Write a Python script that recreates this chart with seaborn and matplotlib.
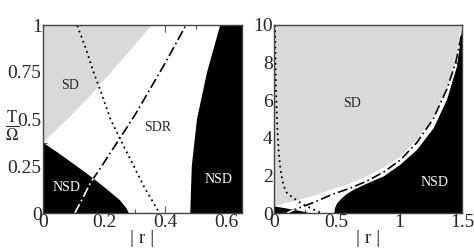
import numpy as np
import pandas as pd
import matplotlib
matplotlib.use("Agg")
import matplotlib.pyplot as plt
from matplotlib.ticker import MultipleLocator, FuncFormatter
import seaborn as sns

# ---- data ----
# grey region (SD) lower/right boundary: r as function of T/Omega
grey_y = [0.375, 0.5, 0.625, 0.75, 0.875, 1.0, 1.3, 1.55, 1.95, 2.45, 3.0, 3.9, 5.1, 6.7, 8.1, 10.0]
grey_r = [0.0, 0.08, 0.155, 0.223, 0.29, 0.355, 0.478, 0.6, 0.743, 0.88, 1.01, 1.14, 1.27, 1.38, 1.45, 1.495]
# black lower-left region (NSD)
nsd1_y = [0.0, 0.03, 0.07, 0.125, 0.19, 0.25, 0.32, 0.375]
nsd1_r = [0.28, 0.27, 0.25, 0.21, 0.16, 0.11, 0.05, 0.0]
# black right region (NSD)
nsd2_y = [0.0, 0.25, 0.5, 0.75, 1.0, 1.25, 1.5, 1.95, 2.57, 3.36, 4.51, 6.02, 7.79, 10.0]
nsd2_r = [0.481, 0.486, 0.503, 0.536, 0.579, 0.64, 0.72, 0.876, 1.009, 1.141, 1.274, 1.38, 1.46, 1.505]
# dash-dot curve
dd_r = [0.104, 0.13, 0.155, 0.2, 0.24, 0.3, 0.35, 0.4, 0.467, 0.6, 0.743, 0.88, 1.01, 1.14, 1.27, 1.38, 1.45, 1.5]
dd_y = [0.0, 0.08, 0.16, 0.27, 0.37, 0.52, 0.66, 0.8, 1.0, 1.3, 1.7, 2.2, 2.83, 3.75, 5.0, 6.6, 8.0, 9.6]
# dotted curve
dot_r = [0.008, 0.013, 0.02, 0.028, 0.038, 0.05, 0.065, 0.08, 0.095, 0.111, 0.14, 0.165, 0.19, 0.22, 0.25, 0.29, 0.33, 0.38]
dot_y = [10.0, 7.5, 5.6, 4.3, 3.2, 2.4, 1.8, 1.4, 1.15, 1.0, 0.875, 0.75, 0.64, 0.5, 0.4, 0.27, 0.14, 0.0]

sns.set_theme(style="ticks")
plt.rcParams["font.family"] = ["Liberation Serif", "DejaVu Serif"]
plt.rcParams["mathtext.fontset"] = "stix"
plt.rcParams["xtick.direction"] = "in"
plt.rcParams["ytick.direction"] = "in"

GREY = "#d9d9d9"

fig = plt.figure(figsize=(4.74, 2.49), dpi=100)
axL = fig.add_axes([43 / 474, 36 / 249, 199 / 474, 188 / 249])
axR = fig.add_axes([274 / 474, 36 / 249, 188 / 474, 188 / 249])

dd = pd.DataFrame({"r": dd_r, "y": dd_y})
dot = pd.DataFrame({"r": dot_r, "y": dot_y})
fmt = FuncFormatter(lambda v, p: f"{v:g}")


def draw(ax, xmax, ymax):
    ax.set_facecolor("white")
    gy = np.array(grey_y + [ymax * 2])
    gr = np.array(grey_r + [grey_r[-1]])
    ax.fill_betweenx(gy, 0, gr, color=GREY, lw=0, zorder=1)
    ax.fill_betweenx(nsd1_y, 0, nsd1_r, color="black", lw=0, zorder=2)
    poly = ax.fill_betweenx(nsd1_y, 0, nsd1_r, color="none", lw=0)
    ax.fill_betweenx(nsd2_y, nsd2_r, 5, color="black", lw=0, zorder=2)
    sns.lineplot(data=dot, x="r", y="y", sort=False, ax=ax, color="black",
                 linestyle=(0, (1, 2)), lw=1.3, zorder=3, estimator=None)
    sns.lineplot(data=dd, x="r", y="y", sort=False, ax=ax, color="black",
                 linestyle=(0, (6, 2, 1, 2)), lw=1.2, zorder=3, estimator=None)
    ln = ax.plot(dd_r, dd_y, color="white", linestyle=(0, (6, 2, 1, 2)), lw=1.2, zorder=4)[0]
    ln.set_clip_path(poly.get_paths()[0], ax.transData)
    ax.set_xlim(0, xmax)
    ax.set_ylim(0, ymax)
    ax.set_ylabel("")
    ax.set_xlabel("| r |", fontsize=14, labelpad=-1)
    ax.tick_params(which="both", top=True, right=True, labelsize=14, pad=1,
                   width=0.8, color="#555555")
    ax.tick_params(which="major", length=5)
    ax.tick_params(which="minor", length=3)
    ax.xaxis.set_major_formatter(fmt)
    ax.yaxis.set_major_formatter(fmt)
    for s in ax.spines.values():
        s.set_linewidth(1.0)
        s.set_color("#444444")
        s.set_zorder(6)


draw(axL, 0.65, 1.0)
axL.xaxis.set_major_locator(MultipleLocator(0.2))
axL.xaxis.set_minor_locator(MultipleLocator(0.1))
axL.yaxis.set_major_locator(MultipleLocator(0.25))
axL.yaxis.set_minor_locator(MultipleLocator(0.125))
axL.text(0.0875, 0.68, "SD", fontsize=10, ha="center", va="center", zorder=5)
axL.text(0.376, 0.457, "SDR", fontsize=10, ha="center", va="center", zorder=5)
axL.text(0.077, 0.133, "NSD", fontsize=10, ha="center", va="center", color="white", zorder=5)
axL.text(0.573, 0.176, "NSD", fontsize=10, ha="center", va="center", color="white", zorder=5)

draw(axR, 1.5, 10.0)
axR.xaxis.set_major_locator(MultipleLocator(0.5))
axR.xaxis.set_minor_locator(MultipleLocator(0.25))
axR.yaxis.set_major_locator(MultipleLocator(2))
axR.yaxis.set_minor_locator(MultipleLocator(1))
axR.text(0.62, 5.8, "SD", fontsize=10, ha="center", va="center", zorder=5)
axR.text(1.28, 1.6, "NSD", fontsize=10, ha="center", va="center", color="white", zorder=5)

fig.text(12 / 474, 1 - 126 / 249, r"$\frac{\mathrm{T}}{\Omega}$", fontsize=17,
         ha="center", va="center")

fig.savefig("out.png", dpi=100)
